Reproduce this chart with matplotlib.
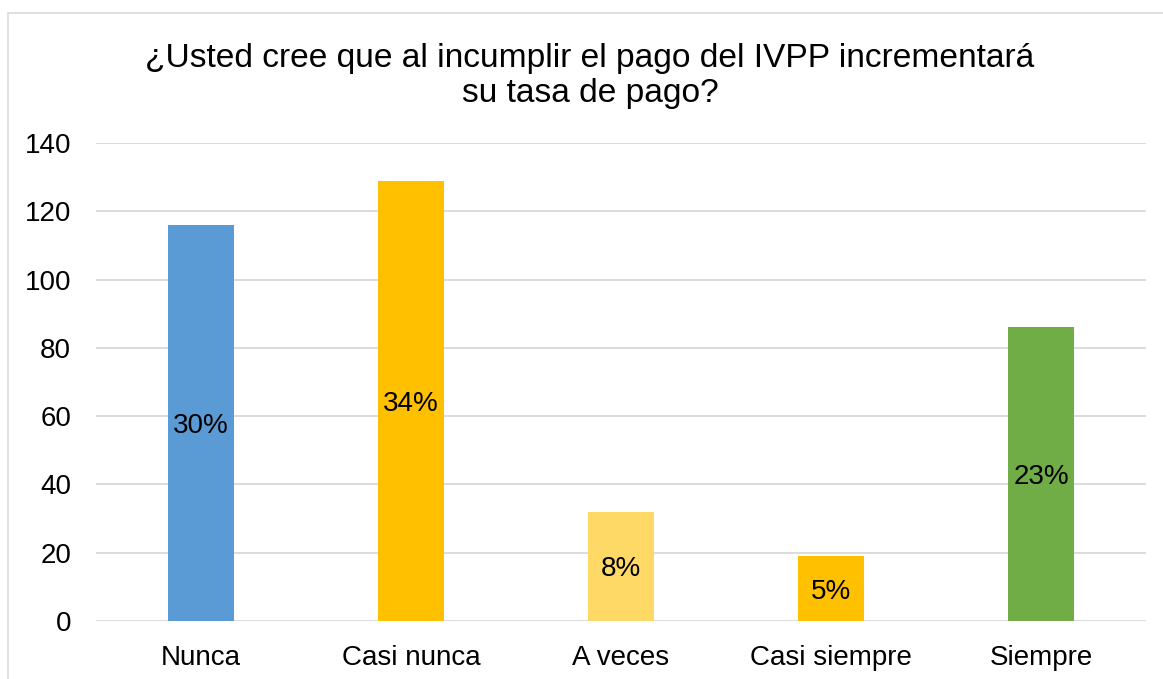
import matplotlib.pyplot as plt
from matplotlib.patches import Rectangle

categories = ["Nunca", "Casi nunca", "A veces", "Casi siempre", "Siempre"]
values = [116, 129, 32, 19, 86]
percent_labels = ["30%", "34%", "8%", "5%", "23%"]
colors = ["#5B9BD5", "#FFC000", "#FFD966", "#FFC000", "#70AD47"]
yticks = [0, 20, 40, 60, 80, 100, 120, 140]

plt.rcParams['font.family'] = ['Liberation Sans', 'DejaVu Sans']

W, H = 1163, 679
fig = plt.figure(figsize=(W / 100, H / 100), dpi=100)
ax = fig.add_axes([96 / W, (H - 621) / H, (1146 - 96) / W, (621 - 143) / H])

# outer chart border (runs off the right and bottom edges)
fig.patches.append(Rectangle((8 / W, -0.05), 1.1, (H - 12.5) / H + 0.05,
                             transform=fig.transFigure, fill=False,
                             edgecolor="#D9D9D9", linewidth=1.2))

x = range(len(categories))
bars = ax.bar(x, values, width=0.315, color=colors, zorder=3)

for b, lab in zip(bars, percent_labels):
    ax.text(b.get_x() + b.get_width() / 2, b.get_height() / 2, lab,
            ha="center", va="center_baseline", fontsize=20, color="black", zorder=4)

ax.set_xlim(-0.5, len(categories) - 0.5)
ax.set_ylim(0, 140)
ax.set_yticks(yticks)
ax.set_xticks(list(x))
ax.set_xticklabels(categories)
ax.tick_params(axis="both", length=0, labelsize=20)
ax.tick_params(axis="y", pad=18)
ax.tick_params(axis="x", pad=17)
ax.grid(axis="y", color="#D9D9D9", linewidth=1.3, zorder=0)
for s in ax.spines.values():
    s.set_visible(False)

fig.text(590 / W, (H - 102) / H, "¿Usted cree que al incumplir el pago del IVPP incrementará\nsu tasa de pago?",
         ha="center", va="baseline", fontsize=24.1, linespacing=1.15, color="black")

fig.savefig("out.png", dpi=100)
